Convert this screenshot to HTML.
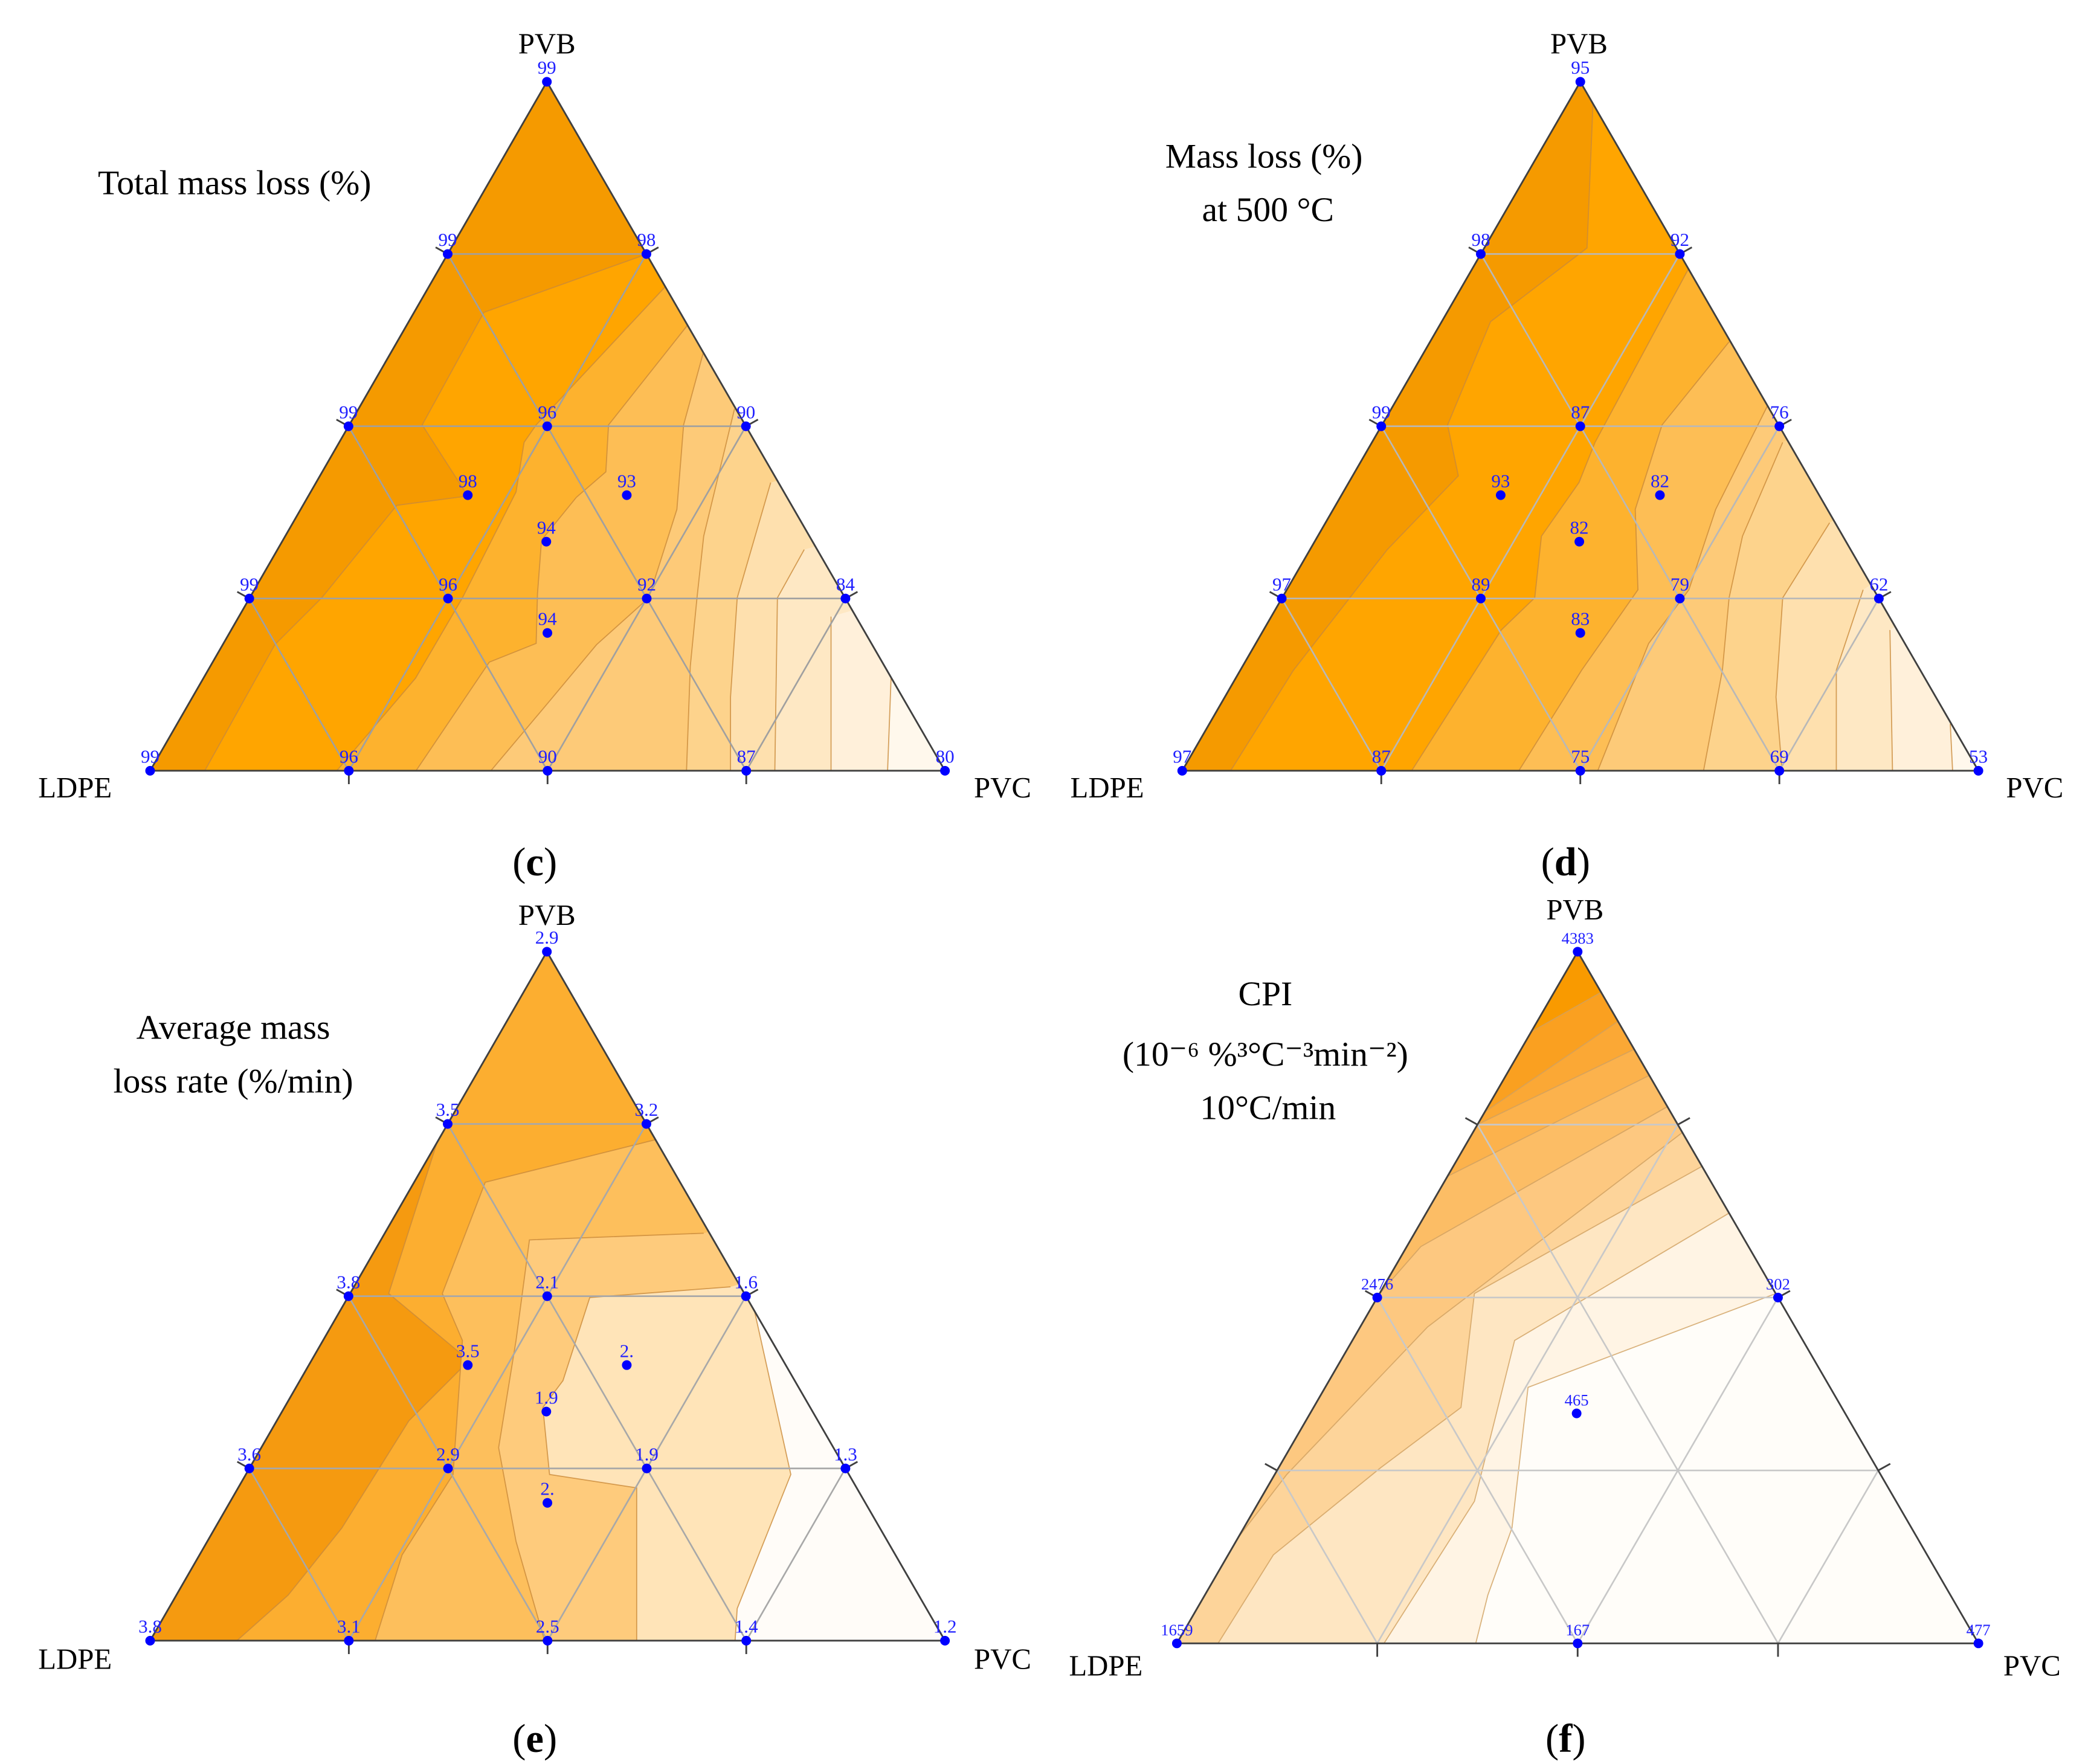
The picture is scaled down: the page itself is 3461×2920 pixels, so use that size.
<!DOCTYPE html>
<html><head><meta charset="utf-8"><style>
html,body{margin:0;padding:0;background:#fff}
svg{display:block}
text{font-family:"Liberation Serif",serif}
</style></head><body>
<svg id="s" width="3461" height="2920" viewBox="0 0 1560 1316" preserveAspectRatio="none" xmlns="http://www.w3.org/2000/svg">
<rect width="1560" height="1316" fill="#fff"/>
<g id="g"></g>
<g font-size="22" fill="#000" text-anchor="middle">
<text x="408" y="40">PVB</text><text x="56" y="595">LDPE</text><text x="748" y="595">PVC</text>
<text x="1178" y="40">PVB</text><text x="826" y="595">LDPE</text><text x="1518" y="595">PVC</text>
<text x="408" y="690">PVB</text><text x="56" y="1245">LDPE</text><text x="748" y="1245">PVC</text>
<text x="1175" y="686">PVB</text><text x="825" y="1250">LDPE</text><text x="1516" y="1250">PVC</text>
</g>
<g font-size="26" fill="#000" text-anchor="middle">
<text x="175" y="145">Total mass loss (%)</text>
<text x="943" y="125">Mass loss (%)</text><text x="946" y="165">at 500 °C</text>
<text x="174" y="775">Average mass</text><text x="174" y="815">loss rate (%/min)</text>
<text x="944" y="750">CPI</text><text x="944" y="795">(10⁻⁶ %³°C⁻³min⁻²)</text><text x="946" y="835">10°C/min</text>
</g>
<g font-size="30" fill="#000" text-anchor="middle">
<text x="399" y="653">(<tspan font-weight="bold">c</tspan>)</text>
<text x="1168" y="653">(<tspan font-weight="bold">d</tspan>)</text>
<text x="399" y="1307">(<tspan font-weight="bold">e</tspan>)</text>
<text x="1168" y="1307">(<tspan font-weight="bold">f</tspan>)</text>
</g>
</svg>
<script>
(function(){
var NS="http://www.w3.org/2000/svg",G=document.getElementById('g');
function el(n,a,p){var e=document.createElementNS(NS,n);for(var k in a)e.setAttribute(k,a[k]);(p||G).appendChild(e);return e;}
function pts(a){return a.map(function(p){return p[0]+','+p[1]}).join(' ');}
var cols=['#FFA500','#FDB22E','#FDBE55','#FDCA78','#FDD38C','#FEE0AE','#FEE8C4','#FFF0DA','#FFF8EC'];
var P=[
{A:[112,575],B:[705,575],C:[408,61],base:'#F59A00',mode:'R',grid:'#A0A0A0',fs:14,
 L:[[[484,189],[361,233],[315,317],[349,370],[296,377],[240,446],[205,481],[150,580]],
 [[500,210],[400,317],[391,330],[385,367],[345,446],[310,506],[247,580]],
 [[515,240],[454,317],[452,352],[430,371],[404,403],[401,443],[400,480],[365,494],[307,580]],
 [[525,262],[510,317],[505,380],[484,446],[445,481],[410,523],[362,580]],
 [[548,305],[525,400],[520,446],[515,497],[512,580]],
 [[575,360],[550,446],[545,520],[545,580]],
 [[600,410],[580,446],[578,580]],
 [[620,460],[620,580]],
 [[665,500],[662,580]]],
 V:[[0,0,'99'],[4,0,'80'],[0,4,'99'],[1,0,'96'],[2,0,'90'],[3,0,'87'],[0,1,'99'],[0,2,'99'],[0,3,'99'],[3,1,'84'],[2,2,'90'],[1,3,'98'],[1,1,'96'],[2,1,'92'],[1,2,'96'],[0.8,1.6,'98'],[1.6,1.6,'93'],[1.33,1.33,'94'],[1.6,0.8,'94']]},
{A:[882,575],B:[1476,575],C:[1179,61],base:'#F59A00',mode:'R',grid:'#B8B8B8',fs:14,
 L:[[[1190,40],[1184,185],[1112,240],[1080,317],[1088,355],[1035,410],[965,500],[915,580]],
 [[1260,200],[1190,330],[1178,360],[1150,400],[1145,446],[1120,470],[1050,580]],
 [[1290,255],[1240,317],[1220,380],[1222,440],[1180,500],[1130,580]],
 [[1320,300],[1280,380],[1260,440],[1230,480],[1190,580]],
 [[1330,330],[1300,400],[1290,446],[1285,500],[1270,580]],
 [[1365,390],[1330,446],[1325,520],[1330,580]],
 [[1390,440],[1370,500],[1370,580]],
 [[1410,470],[1412,580]],
 [[1455,540],[1457,580]]],
 V:[[0,0,'97'],[4,0,'53'],[0,4,'95'],[1,0,'87'],[2,0,'75'],[3,0,'69'],[0,1,'97'],[0,2,'99'],[0,3,'98'],[3,1,'62'],[2,2,'76'],[1,3,'92'],[1,1,'89'],[2,1,'79'],[1,2,'87'],[0.8,1.6,'93'],[1.6,1.6,'82'],[1.33,1.33,'82'],[1.6,0.8,'83']]},
{A:[112,1224],B:[705,1224],C:[408,710],base:'#F59A10',mode:'R',grid:'#A8A8A8',fs:14,
 cols:['#FCAE30','#FDBF5C','#FECB7C','#FFE4B8','#FFFCF8'],
 L:[[[400,700],[400,720],[330,840],[290,965],[350,1015],[305,1060],[255,1140],[215,1190],[170,1230]],
 [[490,850],[362,882],[330,965],[345,1000],[338,1100],[300,1160],[278,1230]],
 [[525,920],[395,925],[385,1000],[372,1080],[385,1150],[408,1230]],
 [[545,960],[440,968],[420,1030],[405,1050],[410,1100],[475,1110],[475,1230]],
 [[560,965],[590,1100],[550,1200],[548,1230]]],
 V:[[0,0,'3.8'],[4,0,'1.2'],[0,4,'2.9'],[1,0,'3.1'],[2,0,'2.5'],[3,0,'1.4'],[0,1,'3.6'],[0,2,'3.8'],[0,3,'3.5'],[3,1,'1.3'],[2,2,'1.6'],[1,3,'3.2'],[1,1,'2.9'],[2,1,'1.9'],[1,2,'2.1'],[0.8,1.6,'3.5'],[1.6,1.6,'2.'],[1.33,1.33,'1.9'],[1.6,0.8,'2.']]},
{A:[878,1226],B:[1476,1226],C:[1177,710],base:'#FFFDF9',mode:'L',grid:'#C8C8C8',fs:12,
 cols:['#FFF4E4','#FEE6C2','#FDD49A','#FDC880','#FCBD65','#FCB24C','#FBA835','#FAA020','#F99A00'],
 L:[[[1325,965],[1140,1035],[1128,1140],[1110,1190],[1100,1230]],
 [[1290,905],[1130,1000],[1100,1120],[1030,1230]],
 [[1270,870],[1100,965],[1090,1050],[1030,1095],[950,1160],[900,1240]],
 [[1255,845],[1065,990],[960,1100],[900,1178]],
 [[1245,825],[1060,930],[990,1010],[945,1095]],
 [[1235,800],[1075,880],[1000,1015]],
 [[1225,780],[1100,840],[1061,910]],
 [[1210,760],[1107,830]],
 [[1195,740],[1142,770]]],
 V:[[0,0,'1659'],[4,0,'477'],[0,4,'4383'],[2,0,'167'],[0,2,'2476'],[2,2,'302'],[1.33,1.33,'465']]}
];
P.forEach(function(p,pi){
 var A=p.A,B=p.B,C=p.C;
 function at(i,j){return [A[0]+(B[0]-A[0])*i/4+(C[0]-A[0])*j/4,A[1]+(B[1]-A[1])*i/4+(C[1]-A[1])*j/4];}
 var id='cp'+pi,cp=el('clipPath',{id:id});el('polygon',{points:pts([A,B,C])},cp);
 var g=el('g',{'clip-path':'url(#'+id+')'});
 el('polygon',{points:pts([A,B,C]),fill:p.base},g);
 var cs=p.cols||cols;
 p.L.forEach(function(l,k){
  var f=l[0],la=l[l.length-1],poly;
  if(p.mode=='R') poly=l.concat([[2000,la[1]+20],[2000,f[1]-400]]);
  else poly=l.concat([[la[0]-300,la[1]+20],[la[0]-300,C[1]-300],[f[0]+400,C[1]-300]]);
  el('polygon',{points:pts(poly),fill:cs[k]},g);
  el('polyline',{points:pts(l),fill:'none',stroke:p.mode=='R'?'#C98A3A':'#D0A060','stroke-width':0.8,'stroke-opacity':0.8},g);
 });
 for(var t=1;t<4;t++){
  var a=at(0,t),b=at(4-t,t); el('line',{x1:a[0],y1:a[1],x2:b[0],y2:b[1],stroke:p.grid,'stroke-width':1.2});
  a=at(t,0);b=at(t,4-t); el('line',{x1:a[0],y1:a[1],x2:b[0],y2:b[1],stroke:p.grid,'stroke-width':1.2});
  a=at(t,0);b=at(0,t); el('line',{x1:a[0],y1:a[1],x2:b[0],y2:b[1],stroke:p.grid,'stroke-width':1.2});
 }
 el('polygon',{points:pts([A,B,C]),fill:'none',stroke:'#404040','stroke-width':1.3});
 for(var t=1;t<4;t++){
  var q=at(t,0);el('line',{x1:q[0],y1:q[1],x2:q[0],y2:q[1]+10,stroke:'#404040','stroke-width':1.3});
  q=at(0,t);el('line',{x1:q[0],y1:q[1],x2:q[0]-9,y2:q[1]-5,stroke:'#404040','stroke-width':1.3});
  q=at(4-t,t);el('line',{x1:q[0],y1:q[1],x2:q[0]+9,y2:q[1]-5,stroke:'#404040','stroke-width':1.3});
 }
 p.V.forEach(function(v){
  var q=at(v[0],v[1]);
  el('circle',{cx:q[0],cy:q[1],r:3.6,fill:'#0000FF'});
  var t=el('text',{x:q[0],y:q[1]-6,'font-size':p.fs,fill:'#2020FF','text-anchor':'middle'});t.textContent=v[2];
 });
});
})();
</script>
</body></html>
